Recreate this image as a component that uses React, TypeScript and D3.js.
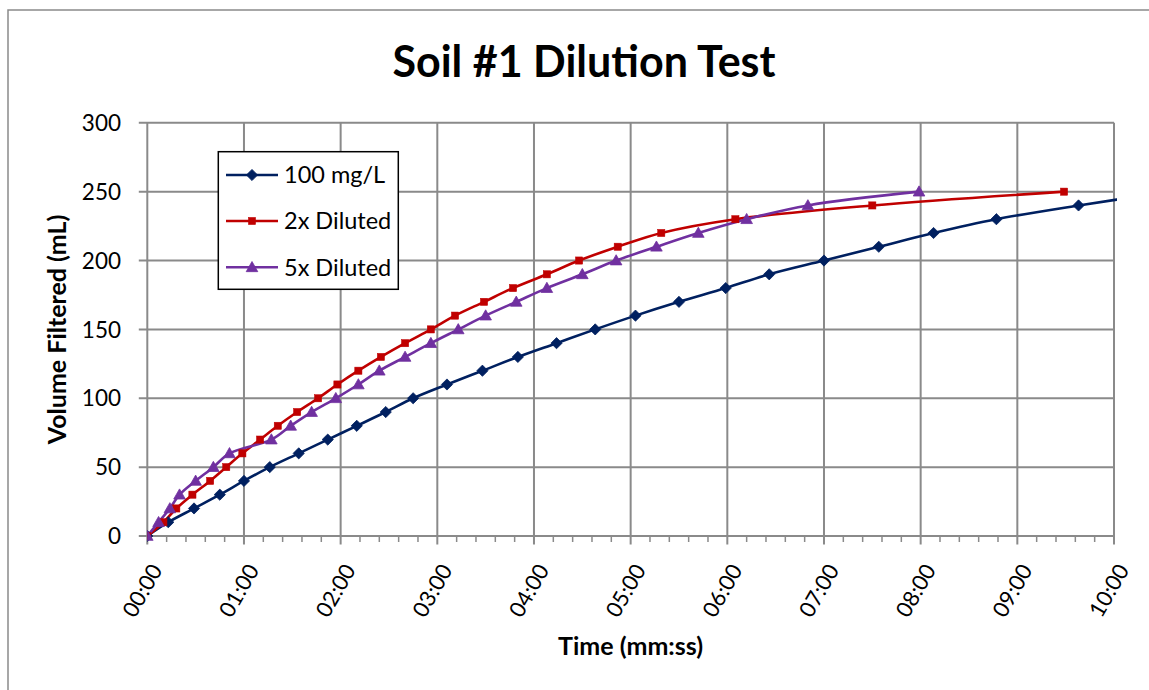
import React from "react";
import * as d3 from "d3";

const timeTickLabels = ["00:00", "01:00", "02:00", "03:00", "04:00", "05:00", "06:00", "07:00", "08:00", "09:00", "10:00"];
const volumeTicks = [0, 50, 100, 150, 200, 250, 300];

// seconds elapsed for each volume reading
const volumes100 = [0, 10, 20, 30, 40, 50, 60, 70, 80, 90, 100, 110, 120, 130, 140, 150, 160, 170, 180, 190, 200, 210, 220, 230, 240, 250];
const times100 = [0, 13, 29, 45, 60, 76, 94, 112, 130, 148, 165, 186, 208, 230, 254, 278, 303, 330, 359, 386, 420, 454, 488, 527, 578, 635];

const volumes2x = [0, 10, 20, 30, 40, 50, 60, 70, 80, 90, 100, 110, 120, 130, 140, 150, 160, 170, 180, 190, 200, 210, 220, 230, 240, 250];
const times2x = [0, 10, 18, 28, 39, 49, 59, 70, 81, 93, 106, 118, 131, 145, 160, 176, 191, 209, 227, 248, 268, 292, 319, 365, 450, 569];

const volumes5x = [0, 10, 20, 30, 40, 50, 60, 70, 80, 90, 100, 110, 120, 130, 140, 150, 160, 170, 180, 190, 200, 210, 220, 230, 240, 250];
const times5x = [0, 7, 14, 20, 30, 41, 51, 77, 89, 102, 117, 131, 144, 160, 176, 193, 210, 229, 248, 270, 291, 316, 342, 372, 410, 479];

const seriesNames = ["100 mg/L", "2x Diluted", "5x Diluted"];
const seriesColors = ["#002060", "#C00000", "#7030A0"];
const seriesMarkers = ["diamond", "square", "triangle"];

const W = 1149;
const H = 690;
const plot = { left: 147.3, right: 1114, top: 122.8, bottom: 536 };
const FONT = "Lato, 'Open Sans', sans-serif";
const GRID = "#8a8a8a";

function Marker({ type, x, y, color }: { type: string; x: number; y: number; color: string }) {
  if (type === "diamond") {
    const r = 5.6;
    return <path d={`M${x},${y - r}L${x + r},${y}L${x},${y + r}L${x - r},${y}Z`} fill={color} stroke={color} strokeWidth={0.8} />;
  }
  if (type === "square") {
    const r = 3.6;
    return <rect x={x - r} y={y - r} width={2 * r} height={2 * r} fill={color} stroke={color} strokeWidth={0.5} />;
  }
  const r = 5.8;
  return <path d={`M${x},${y - r}L${x + r},${y + r * 0.75}L${x - r},${y + r * 0.75}Z`} fill={color} stroke={color} strokeWidth={0.8} />;
}

export default function App() {
  const x = d3.scaleLinear().domain([0, 600]).range([plot.left, plot.right]);
  const y = d3.scaleLinear().domain([0, 300]).range([plot.bottom, plot.top]);

  const series = [
    { t: times100, v: volumes100 },
    { t: times2x, v: volumes2x },
    { t: times5x, v: volumes5x },
  ].map((s, i) => ({
    name: seriesNames[i],
    color: seriesColors[i],
    marker: seriesMarkers[i],
    pts: s.t.map((t, j) => [t, s.v[j]] as [number, number]),
  }));

  const line = d3
    .line<[number, number]>()
    .x((d) => x(d[0]))
    .y((d) => y(d[1]))
    .curve(d3.curveCatmullRom.alpha(0.5));

  const majorX = d3.range(0, 601, 60);
  const minorX = d3.range(0, 601, 12).filter((s) => s % 60 !== 0);

  const legend = { x: 218.3, y: 151.7, w: 180, h: 137.6 };
  const rowY = [175, 221, 267.3];

  return (
    <svg width={W} height={H} style={{ position: "absolute", left: 0, top: 0, background: "#fff" }} fontFamily={FONT}>
      <defs>
        <clipPath id="plotclip">
          <rect x={plot.left} y={plot.top - 10} width={plot.right - plot.left + 3} height={plot.bottom - plot.top + 20} />
        </clipPath>
      </defs>
      <rect x={0} y={0} width={W} height={H} fill="#fff" />
      {/* chart frame */}
      <rect x={8} y={10} width={1170} height={720} fill="none" stroke={GRID} strokeWidth={1.5} />

      {/* title */}
      <text x={584} y={77} textAnchor="middle" fontSize={43} fontWeight={700} fill="#000">
        Soil #1 Dilution Test
      </text>

      {/* horizontal gridlines */}
      {volumeTicks.map((v) => (
        <line key={"hg" + v} x1={plot.left - 8.5} x2={plot.right} y1={y(v)} y2={y(v)} stroke={GRID} strokeWidth={2} />
      ))}
      {/* vertical gridlines */}
      {majorX.map((s) => (
        <line key={"vg" + s} x1={x(s)} x2={x(s)} y1={plot.top} y2={plot.bottom + 8.5} stroke={GRID} strokeWidth={2} />
      ))}
      {/* minor ticks */}
      {minorX.map((s) => (
        <line key={"mt" + s} x1={x(s)} x2={x(s)} y1={plot.bottom} y2={plot.bottom + 6} stroke={GRID} strokeWidth={1.5} />
      ))}

      {/* y tick labels */}
      {volumeTicks.map((v) => (
        <text key={"yl" + v} x={121} y={y(v)} dy="0.36em" textAnchor="end" fontSize={22.5} fill="#000">
          {v}
        </text>
      ))}
      {/* x tick labels */}
      {majorX.map((s, i) => (
        <text
          key={"xl" + s}
          transform={`translate(${x(s) + 9},${plot.bottom + 30}) rotate(-60)`}
          textAnchor="end"
          dy="0.36em"
          fontSize={22}
          fill="#000"
        >
          {timeTickLabels[i]}
        </text>
      ))}

      {/* axis titles */}
      <text x={630.6} y={655} textAnchor="middle" fontSize={25} fontWeight={700} fill="#000">
        Time (mm:ss)
      </text>
      <text transform={`translate(66,${(plot.top + plot.bottom) / 2}) rotate(-90)`} textAnchor="middle" fontSize={25} fontWeight={700} fill="#000">
        Volume Filtered (mL)
      </text>

      {/* series */}
      <g clipPath="url(#plotclip)">
        {series.map((s) => (
          <path key={"l" + s.name} d={line(s.pts) || ""} fill="none" stroke={s.color} strokeWidth={2.6} />
        ))}
        {series.map((s) =>
          s.pts.map((p, j) => <Marker key={s.name + j} type={s.marker} x={x(p[0])} y={y(p[1])} color={s.color} />)
        )}
      </g>

      {/* legend */}
      <rect x={legend.x} y={legend.y} width={legend.w} height={legend.h} fill="#fff" stroke="#000" strokeWidth={1.5} />
      {series.map((s, i) => (
        <g key={"lg" + s.name}>
          <line x1={226} x2={278} y1={rowY[i]} y2={rowY[i]} stroke={s.color} strokeWidth={2.6} />
          <Marker type={s.marker} x={252} y={rowY[i]} color={s.color} />
          <text x={284} y={rowY[i]} dy="0.36em" fontSize={23.5} fill="#000">
            {s.name}
          </text>
        </g>
      ))}
    </svg>
  );
}
